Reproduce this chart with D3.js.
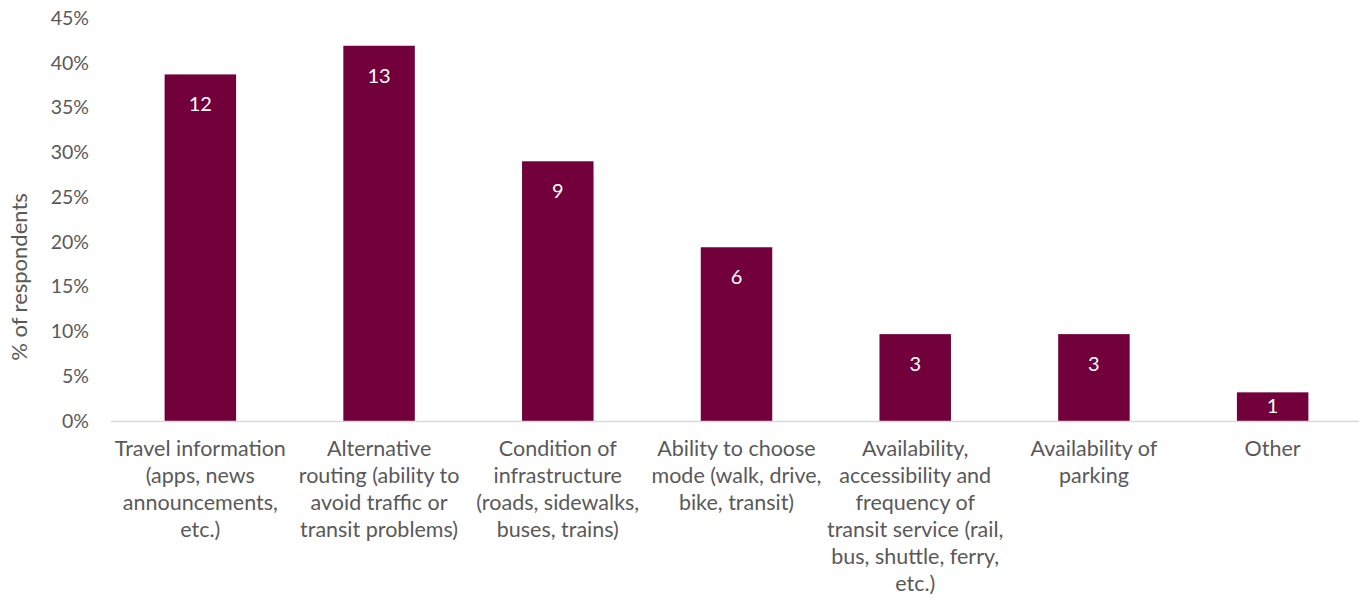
<!DOCTYPE html>
<html>
<head>
<meta charset="utf-8">
<script src="https://cdn.jsdelivr.net/npm/d3@7"></script>
<style>
  body { margin: 0; background: #fff; }
  svg text { font-family: Lato, "Open Sans", sans-serif; }
</style>
</head>
<body>
<div id="chart"></div>
<script>
// categories (split into lines as in the source)
const categories = [
  ["Travel information", "(apps, news", "announcements,", "etc.)"],
  ["Alternative", "routing (ability to", "avoid traffic or", "transit problems)"],
  ["Condition of", "infrastructure", "(roads, sidewalks,", "buses, trains)"],
  ["Ability to choose", "mode (walk, drive,", "bike, transit)"],
  ["Availability,", "accessibility and", "frequency of", "transit service (rail,", "bus, shuttle, ferry,", "etc.)"],
  ["Availability of", "parking"],
  ["Other"]
];
const percents = [38.7, 41.9, 29.0, 19.4, 9.7, 9.7, 3.2];
const counts = [12, 13, 9, 6, 3, 3, 1];
const yTicks = [0, 5, 10, 15, 20, 25, 30, 35, 40, 45];

const width = 1359, height = 599;
const margin = { left: 111, right: -3, top: 18, bottom: 178 };
const barColor = "#72003a";

const svg = d3.select("#chart").append("svg")
  .attr("width", width)
  .attr("height", height);

const x = d3.scaleBand()
  .domain(d3.range(categories.length))
  .range([margin.left, width - margin.right])
  .padding(0);

const y = d3.scaleLinear()
  .domain([0, 45])
  .range([height - margin.bottom, margin.top]);

const barW = x.bandwidth() * 0.4;

// y axis labels
const yAxis = svg.append("g")
  .attr("transform", `translate(${margin.left},0)`)
  .call(d3.axisLeft(y).tickValues(yTicks).tickFormat(d => d + "%").tickSize(0).tickPadding(22));
yAxis.select(".domain").remove();
yAxis.selectAll("text")
  .attr("fill", "#595959")
  .style("font-size", "19.5px");

// bars
svg.selectAll(".bar")
  .data(percents)
  .enter()
  .append("rect")
  .attr("class", "bar")
  .attr("x", (d, i) => x(i) + (x.bandwidth() - barW) / 2)
  .attr("y", d => y(d))
  .attr("width", barW)
  .attr("height", d => y(0) - y(d))
  .attr("fill", barColor);

// bottom axis line
svg.append("line")
  .attr("x1", margin.left)
  .attr("x2", width)
  .attr("y1", y(0) + 0.5)
  .attr("y2", y(0) + 0.5)
  .attr("stroke", "#d9d9d9")
  .attr("stroke-width", 1.5);

// count labels (inside end; short bars keep the label inside)
svg.selectAll(".count")
  .data(counts)
  .enter()
  .append("text")
  .attr("class", "count")
  .attr("x", (d, i) => x(i) + x.bandwidth() / 2)
  .attr("y", (d, i) => Math.min(y(percents[i]) + 37, y(0) - 8))
  .attr("text-anchor", "middle")
  .attr("fill", "#fff")
  .style("font-size", "20px")
  .text(d => d);

// category labels
const cat = svg.selectAll(".cat")
  .data(categories)
  .enter()
  .append("text")
  .attr("class", "cat")
  .attr("x", (d, i) => x(i) + x.bandwidth() / 2)
  .attr("y", y(0) + 35)
  .attr("text-anchor", "middle")
  .attr("fill", "#595959")
  .style("font-size", "21.5px");

cat.selectAll("tspan")
  .data(d => d)
  .enter()
  .append("tspan")
  .attr("x", function () { return d3.select(this.parentNode).attr("x"); })
  .attr("dy", (d, i) => i === 0 ? 0 : 27)
  .text(d => d);

// y title
svg.append("text")
  .attr("transform", `translate(27, 277) rotate(-90)`)
  .attr("text-anchor", "middle")
  .attr("fill", "#595959")
  .style("font-size", "22px")
  .text("% of respondents");
</script>
</body>
</html>
